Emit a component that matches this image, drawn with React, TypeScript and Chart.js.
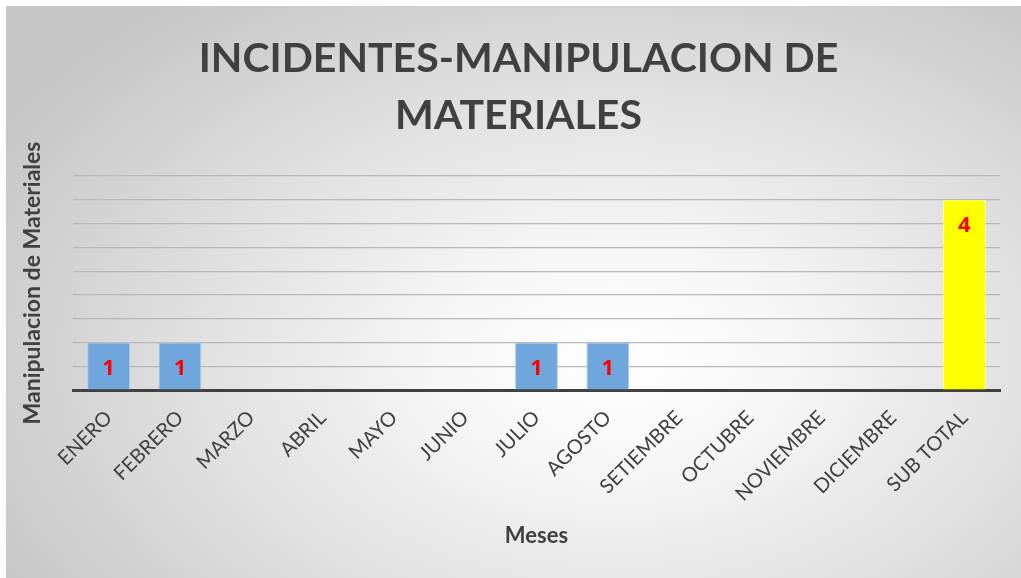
import React, { useEffect, useRef } from "react";
import { Chart, registerables } from "chart.js";

Chart.register(...registerables);

const categories = [
  "ENERO", "FEBRERO", "MARZO", "ABRIL", "MAYO", "JUNIO", "JULIO",
  "AGOSTO", "SETIEMBRE", "OCTUBRE", "NOVIEMBRE", "DICIEMBRE", "SUB TOTAL",
];
const incidentes = [1, 1, 0, 0, 0, 0, 1, 1, 0, 0, 0, 0, 4];
const titleLines = ["INCIDENTES-MANIPULACION DE", "MATERIALES"];
const yTitle = "Manipulacion de Materiales";
const xTitle = "Meses";
const yMin = 0;
const yMax = 4.5;
const yStep = 0.5;

const W = 1015;
const H = 572;

const labelPlugin = {
  id: "valueLabels",
  afterDatasetsDraw(chart: any) {
    const ctx = chart.ctx;
    const meta = chart.getDatasetMeta(0);
    ctx.save();
    ctx.fillStyle = "#ff0000";
    ctx.font = "bold 22px 'Open Sans'";
    ctx.textAlign = "center";
    ctx.textBaseline = "middle";
    meta.data.forEach((bar: any, i: number) => {
      const v = incidentes[i];
      if (!v) return;
      ctx.fillText(String(v), bar.x, bar.y + 26);
    });
    ctx.restore();
  },
};

export default function App() {
  const ref = useRef<HTMLCanvasElement | null>(null);
  useEffect(() => {
    if (!ref.current) return;
    const last = categories.length - 1;
    const chart = new Chart(ref.current, {
      type: "bar",
      data: {
        labels: categories,
        datasets: [
          {
            data: incidentes,
            backgroundColor: (c: any) => (c.dataIndex === last ? "#ffff00" : "#6fa6db"),
            borderColor: (c: any) => (c.dataIndex === last ? "#ffff99" : "#a9c9ea"),
            borderWidth: (c: any) => (incidentes[c.dataIndex] ? 1 : 0),
            borderSkipped: "bottom",
            categoryPercentage: 1,
            barPercentage: 0.6,
          },
        ],
      },
      options: {
        animation: false,
        responsive: false,
        maintainAspectRatio: false,
        devicePixelRatio: 1,
        layout: { padding: { left: 31, right: 21, top: 0, bottom: 0 } },
        plugins: {
          legend: { display: false },
          tooltip: { enabled: false },
          title: {
            display: true,
            text: titleLines,
            color: "#404040",
            font: { family: "Lato", size: 41, weight: "bold", lineHeight: 57 / 41 },
            padding: { top: 24, bottom: 32 },
          },
        },
        scales: {
          x: {
            grid: { display: false },
            border: { display: true, color: "#404040", width: 3 },
            ticks: {
              color: "#404040",
              font: { family: "Lato", size: 20 },
              maxRotation: 45,
              minRotation: 45,
              padding: 8,
              autoSkip: false,
            },
            title: {
              display: true,
              text: xTitle,
              color: "#404040",
              font: { family: "Lato", size: 22, weight: "bold", lineHeight: 1.2 },
              padding: { top: 0, bottom: 29 },
            },
            afterFit: (s: any) => {
              s.height = H - 384;
            },
          },
          y: {
            min: yMin,
            max: yMax,
            ticks: { display: false, stepSize: yStep },
            grid: { color: "#b8b8b8", lineWidth: 1.2, drawTicks: false },
            border: { display: false },
            title: {
              display: true,
              text: yTitle,
              color: "#404040",
              font: { family: "Lato", size: 23, weight: "bold", lineHeight: 1.2 },
              padding: { top: -17.8, bottom: 0 },
            },
            afterFit: (s: any) => {
              s.width = 36;
            },
          },
        },
      },
      plugins: [labelPlugin],
    });
    return () => chart.destroy();
  }, []);

  return (
    <div
      style={{
        position: "fixed",
        left: 6,
        top: 6,
        width: W,
        height: H,
        background:
          "radial-gradient(ellipse 70% 80% at 60% 62%, #ffffff 0%, #f6f6f6 25%, #c6c6c6 100%)",
      }}
    >
      <canvas ref={ref} width={W} height={H} style={{ display: "block" }} />
    </div>
  );
}
